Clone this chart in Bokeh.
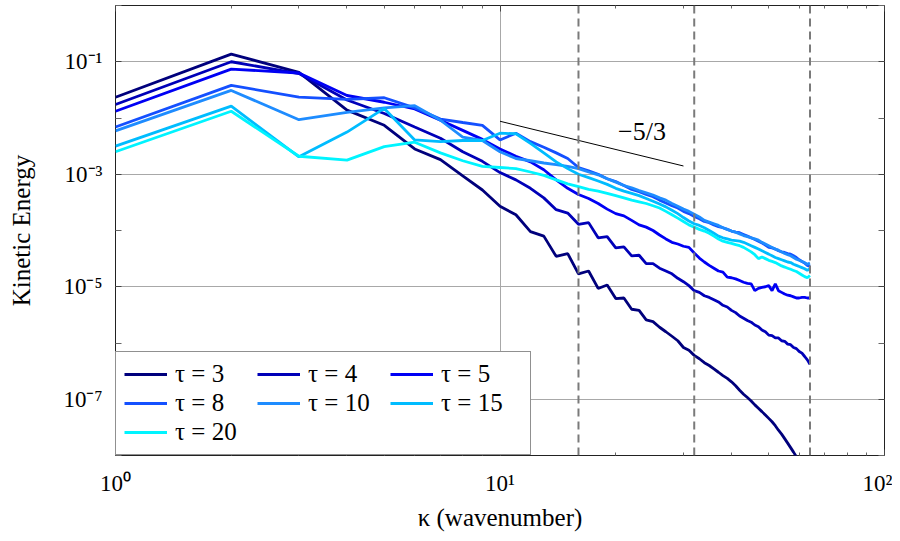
from bokeh.plotting import figure
from bokeh.models import LogAxis, FixedTicker, Span, Label, Legend, LegendItem
from bokeh.embed import file_html
from bokeh.resources import INLINE

# wavenumbers
k = list(range(1, 65))

# log10 of kinetic energy
tau3_log10 = [-1.63, -0.864, -1.19, -1.86, -2.13, -2.55, -2.74, -3.03, -3.28, -3.57,
              -3.72, -4.02, -4.10, -4.46, -4.41, -4.77, -4.72, -5.03, -4.97, -5.21,
              -5.20, -5.40, -5.42, -5.59, -5.62, -5.72, -5.80, -5.88, -5.96, -6.08,
              -6.13, -6.22, -6.28, -6.35, -6.40, -6.46, -6.52, -6.58, -6.63, -6.69,
              -6.76, -6.84, -6.91, -6.97, -7.03, -7.10, -7.16, -7.22, -7.28, -7.34,
              -7.40, -7.47, -7.55, -7.62, -7.70, -7.78, -7.86, -7.94, -8.02, -8.10,
              -8.19, -8.28, -8.37, -8.46]
tau4_log10 = [-1.76, -1.00, -1.21, -1.68, -1.92, -2.16, -2.36, -2.60, -2.77, -2.97,
              -3.10, -3.25, -3.42, -3.63, -3.69, -3.89, -3.86, -4.13, -4.11, -4.31,
              -4.29, -4.45, -4.44, -4.59, -4.59, -4.67, -4.72, -4.77, -4.85, -4.91,
              -4.98, -5.07, -5.10, -5.16, -5.19, -5.23, -5.27, -5.33, -5.36, -5.42,
              -5.46, -5.52, -5.56, -5.60, -5.63, -5.68, -5.71, -5.77, -5.80, -5.86,
              -5.87, -5.91, -5.91, -5.96, -5.97, -6.02, -6.03, -6.08, -6.10, -6.15,
              -6.18, -6.24, -6.30, -6.38]
tau5_log10 = [-1.88, -1.13, -1.20, -1.60, -1.72, -1.84, -2.04, -2.22, -2.38, -2.55,
              -2.68, -2.78, -2.92, -3.10, -3.25, -3.36, -3.43, -3.52, -3.62, -3.70,
              -3.74, -3.82, -3.90, -3.94, -4.00, -4.08, -4.15, -4.21, -4.24, -4.28,
              -4.30, -4.40, -4.49, -4.56, -4.62, -4.67, -4.72, -4.74, -4.83, -4.84,
              -4.86, -4.89, -4.92, -4.94, -4.95, -5.07, -5.03, -5.01, -5.00, -4.98,
              -5.07, -4.95, -5.07, -5.10, -5.13, -5.15, -5.16, -5.18, -5.20, -5.20,
              -5.19, -5.19, -5.20, -5.20]
tau8_log10 = [-2.16, -1.42, -1.63, -1.67, -1.64, -1.82, -2.02, -2.08, -2.13, -2.39,
              -2.27, -2.42, -2.52, -2.62, -2.72, -2.88, -2.94, -3.00, -3.08, -3.13,
              -3.20, -3.27, -3.31, -3.36, -3.40, -3.46, -3.51, -3.56, -3.60, -3.66,
              -3.70, -3.75, -3.79, -3.84, -3.86, -3.90, -3.93, -3.95, -3.98, -4.01,
              -4.03, -4.04, -4.07, -4.10, -4.13, -4.16, -4.19, -4.22, -4.26, -4.30,
              -4.31, -4.33, -4.36, -4.38, -4.39, -4.41, -4.42, -4.45, -4.48, -4.52,
              -4.55, -4.58, -4.62, -4.64]
tau10_log10 = [-2.23, -1.51, -2.03, -1.90, -1.82, -1.78, -2.04, -2.34, -2.40, -2.60,
               -2.72, -2.76, -2.80, -2.83, -2.86, -2.90, -2.96, -3.01, -3.08, -3.14,
               -3.20, -3.24, -3.29, -3.33, -3.37, -3.42, -3.46, -3.52, -3.57, -3.62,
               -3.66, -3.71, -3.76, -3.82, -3.85, -3.88, -3.91, -3.95, -3.98, -4.01,
               -4.03, -4.06, -4.09, -4.11, -4.13, -4.15, -4.17, -4.21, -4.24, -4.27,
               -4.30, -4.33, -4.35, -4.38, -4.41, -4.43, -4.45, -4.48, -4.51, -4.53,
               -4.55, -4.57, -4.60, -4.58]
tau15_log10 = [-2.50, -1.79, -2.69, -2.25, -1.83, -2.39, -2.42, -2.40, -2.40, -2.27,
               -2.28, -2.45, -2.62, -2.78, -2.90, -3.00, -3.06, -3.12, -3.18, -3.25,
               -3.30, -3.34, -3.38, -3.43, -3.48, -3.53, -3.58, -3.64, -3.70, -3.77,
               -3.83, -3.88, -3.91, -3.95, -4.00, -4.05, -4.10, -4.13, -4.15, -4.17,
               -4.18, -4.19, -4.21, -4.24, -4.27, -4.30, -4.33, -4.36, -4.39, -4.42,
               -4.45, -4.48, -4.50, -4.52, -4.54, -4.56, -4.57, -4.60, -4.62, -4.64,
               -4.66, -4.68, -4.71, -4.68]
tau20_log10 = [-2.60, -1.88, -2.68, -2.75, -2.51, -2.43, -2.62, -2.76, -2.86, -2.88,
               -2.90, -2.96, -3.02, -3.10, -3.17, -3.22, -3.27, -3.30, -3.34, -3.38,
               -3.42, -3.46, -3.49, -3.52, -3.56, -3.60, -3.66, -3.72, -3.78, -3.84,
               -3.90, -3.94, -3.98, -4.01, -4.05, -4.10, -4.15, -4.19, -4.21, -4.23,
               -4.25, -4.27, -4.30, -4.34, -4.38, -4.43, -4.50, -4.47, -4.50, -4.53,
               -4.55, -4.57, -4.60, -4.63, -4.65, -4.67, -4.69, -4.71, -4.73, -4.76,
               -4.79, -4.82, -4.84, -4.80]

series_labels = ["τ = 3", "τ = 4", "τ = 5", "τ = 8", "τ = 10", "τ = 15", "τ = 20"]
series_log10 = [tau3_log10, tau4_log10, tau5_log10, tau8_log10, tau10_log10, tau15_log10, tau20_log10]
series_colors = ["#00007c", "#0000b8", "#0000f4", "#1450ff", "#1e8cff", "#00bcff", "#00f4ff"]

# reference lines
dashed_k = [16, 32, 64]
slope_x = [10, 30]
slope_y_start = 0.00875
slope_exponent = -5.0 / 3.0
slope_label = "−5/3"
slope_label_pos = (23.4, 0.0058)

x_major = [1, 10, 100]
x_minor = [2, 3, 4, 5, 6, 7, 8, 9, 20, 30, 40, 50, 60, 70, 80, 90]
x_labels = {1: "10⁰", 10: "10¹", 100: "10²"}
y_major = [1e-7, 1e-5, 1e-3, 1e-1]
y_minor = [1e-8, 1e-6, 1e-4, 1e-2, 1]
y_labels = {1e-7: "10⁻⁷", 1e-5: "10⁻⁵", 1e-3: "10⁻³", 1e-1: "10⁻¹"}

FONT = "Liberation Serif"

p = figure(width=892, height=533, x_axis_type="log", y_axis_type="log",
           x_range=(1, 100), y_range=(1e-8, 1),
           output_backend="svg", toolbar_location=None,
           min_border_left=115, min_border_right=8, min_border_top=5, min_border_bottom=74,
           x_axis_label="κ (wavenumber)", y_axis_label="Kinetic Energy")
p.background_fill_color = "white"
p.border_fill_color = "white"
p.outline_line_color = "#222222"
p.outline_line_width = 1

xt = FixedTicker(ticks=x_major, minor_ticks=x_minor)
yt = FixedTicker(ticks=y_major, minor_ticks=y_minor)

for ax in p.xaxis:
    ax.ticker = xt
    ax.major_label_overrides = x_labels
for ax in p.yaxis:
    ax.ticker = yt
    ax.major_label_overrides = y_labels

for ax in list(p.xaxis) + list(p.yaxis):
    ax.axis_line_color = None
    ax.major_tick_in = 6
    ax.major_tick_out = 0
    ax.minor_tick_in = 3
    ax.minor_tick_out = 0
    ax.major_tick_line_color = "#444444"
    ax.minor_tick_line_color = "#666666"
    ax.major_label_text_font = FONT
    ax.major_label_text_font_size = "23px"
    ax.major_label_text_color = "black"
    ax.axis_label_text_font = FONT
    ax.axis_label_text_font_size = "25px"
    ax.axis_label_text_font_style = "normal"
    ax.axis_label_text_color = "black"
p.yaxis.minor_tick_in = 6
p.xaxis.major_label_standoff = 15
p.xaxis.axis_label_standoff = 5
p.yaxis.major_label_standoff = 13
p.yaxis.axis_label_standoff = 25

top = LogAxis(ticker=FixedTicker(ticks=x_major, minor_ticks=x_minor),
              major_label_text_font_size="1px", major_label_text_color=None,
              major_label_standoff=0,
              axis_line_color=None, major_tick_in=6, major_tick_out=0,
              minor_tick_in=3, minor_tick_out=0,
              major_tick_line_color="#444444", minor_tick_line_color="#666666")
right = LogAxis(ticker=FixedTicker(ticks=y_major, minor_ticks=y_minor),
                major_label_text_font_size="1px", major_label_text_color=None,
                major_label_standoff=0,
                axis_line_color=None, major_tick_in=6, major_tick_out=0,
                minor_tick_in=6, minor_tick_out=0,
                major_tick_line_color="#444444", minor_tick_line_color="#666666")
p.add_layout(top, "above")
p.add_layout(right, "right")

p.xgrid.grid_line_color = "#a8a8a8"
p.ygrid.grid_line_color = "#a8a8a8"
p.grid.grid_line_width = 1

for kk in dashed_k:
    p.add_layout(Span(location=kk, dimension="height", line_color="#7a7a7a",
                      line_width=2, line_dash="8 5"))

slope_y = [slope_y_start * (x / slope_x[0]) ** slope_exponent for x in slope_x]
p.line(slope_x, slope_y, line_color="black", line_width=1)
p.add_layout(Label(x=slope_label_pos[0], y=slope_label_pos[1], text=slope_label,
                   text_font=FONT, text_font_size="26px", text_align="center",
                   text_baseline="middle", text_color="black"))

items = []
for lab, vals, col in zip(series_labels, series_log10, series_colors):
    ys = [10 ** v for v in vals]
    r = p.line(k[:len(ys)], ys, line_color=col, line_width=2.8)
    items.append(LegendItem(label=lab, renderers=[r]))

legend = Legend(items=items, location="bottom_left", orientation="horizontal", ncols=3,
                margin=0, padding=8, spacing=1, label_standoff=8,
                glyph_width=43, glyph_height=24, label_width=81, label_height=24,
                label_text_font=FONT, label_text_font_size="25px",
                label_text_color="black",
                border_line_color="#222222", border_line_width=1,
                background_fill_color="white", background_fill_alpha=1)
p.add_layout(legend)

open("out.html", "w").write(file_html(p, INLINE))
